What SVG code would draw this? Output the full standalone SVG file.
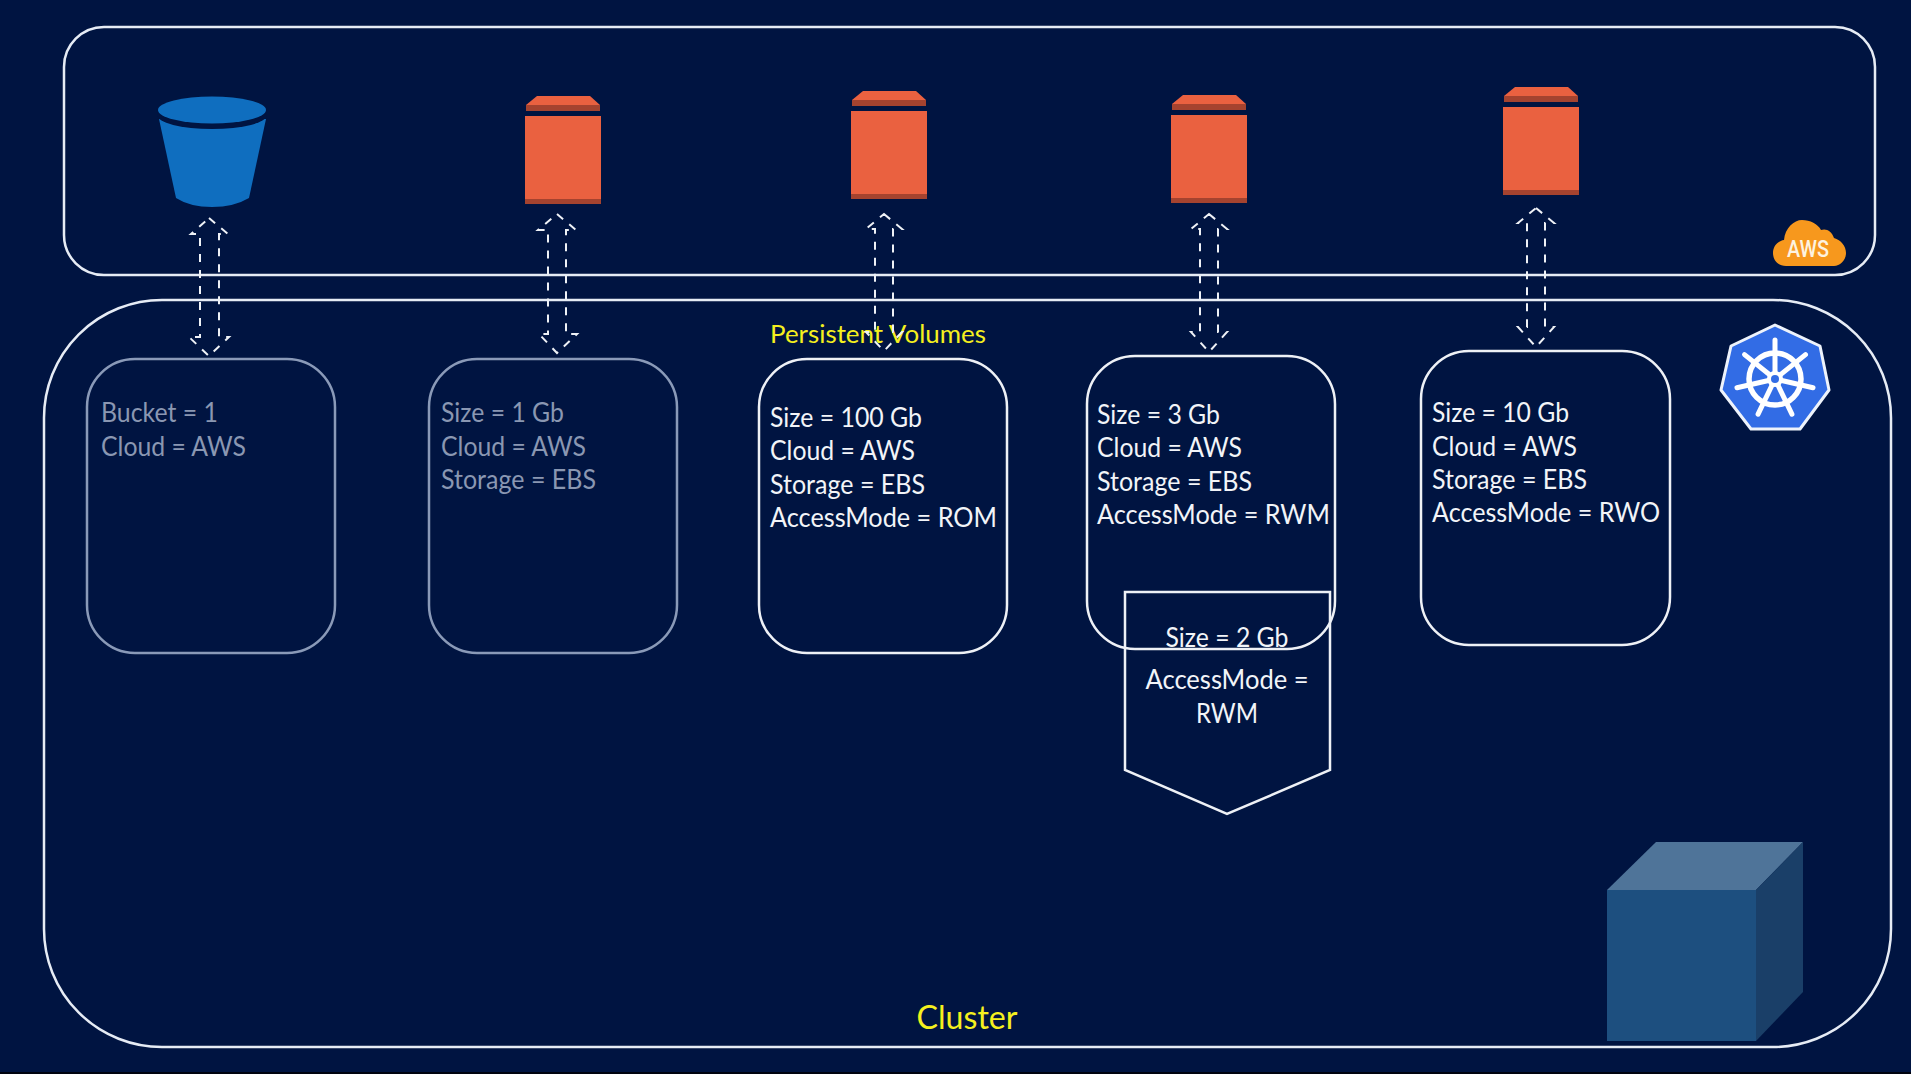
<svg xmlns="http://www.w3.org/2000/svg" width="1911" height="1074" viewBox="0 0 1911 1074">
<defs>
<style>
.frame{fill:none;stroke:#e6ecf5;stroke-width:2.5}
.t{font-family:"Lato","Open Sans",sans-serif;font-size:26px;fill:#f2f4f8}
.dim{fill:#8a97b2}
.y{fill:#f5f01e}
.box{fill:none;stroke:#eef1f6;stroke-width:2.5}
.boxdim{fill:none;stroke:#8a9ab8;stroke-width:2.5}
.arrow{fill:none;stroke:#eef1f6;stroke-width:2;stroke-dasharray:8 8}
.ebs{fill:#ea6140}
.ebsd{fill:#a5432f}
</style>
<g id="ebs">
<polygon class="ebs" points="12,0 65,0 75,9 1,9"/>
<rect class="ebsd" x="1" y="9" width="74" height="6"/>
<rect class="ebs" x="0" y="20" width="76" height="83"/>
<rect class="ebsd" x="0" y="103" width="76" height="5"/>
</g>
</defs>
<rect width="1911" height="1074" fill="#001441"/>
<rect y="1072" width="1911" height="2" fill="#00030f"/>
<g id="aws-region"><rect class="frame" x="64" y="27" width="1811" height="248" rx="40"/></g>
<g id="cluster"><rect class="frame" x="44" y="300" width="1847" height="747" rx="118"/>
<text class="t y" x="967" y="1029" text-anchor="middle" style="font-size:32px" textLength="101" lengthAdjust="spacingAndGlyphs">Cluster</text></g>
<g id="pv-title"><text class="t y" x="770" y="343" textLength="216" lengthAdjust="spacingAndGlyphs" style="font-size:25px">Persistent Volumes</text></g>

<g id="bucket">
<path d="M159 119 L176 198 Q190 207 212 207 Q234 207 249 198 L266 119 Z" fill="#0f6ebf"/>
<ellipse cx="212" cy="115" rx="55" ry="14" fill="#001441"/>
<ellipse cx="212" cy="110" rx="54" ry="13.5" fill="#0f6ebf"/>
</g>
<g id="ebs-1"><use href="#ebs" x="525" y="96"/></g>
<g id="ebs-2"><use href="#ebs" x="851" y="91"/></g>
<g id="ebs-3"><use href="#ebs" x="1171" y="95"/></g>
<g id="ebs-4"><use href="#ebs" x="1503" y="87"/></g>

<g id="aws-logo">
<path fill="#f7981d" d="M1786 266 C1777 266 1773 259 1773 253 C1773 246 1778 241 1784 240 C1785 228 1794 220 1802 220 C1810 220 1818 224 1821 230 C1826 228 1832 231 1834 238 C1841 240 1846 246 1846 253 C1846 260 1840 266 1834 266 Z"/>
<text x="1787" y="257" font-family="Roboto,sans-serif" font-weight="500" font-size="24" fill="#fdf3e0" textLength="42" lengthAdjust="spacingAndGlyphs">AWS</text>
</g>

<g id="k8s-logo">
<polygon points="1775,325 1820,346 1829,390 1800,429 1751,429 1721,390 1731,346" fill="#326ce5" stroke="#eef3fb" stroke-width="3" stroke-linejoin="round"/>
<g transform="translate(1775 379)" fill="none" stroke="#fff">
<circle r="26" stroke-width="5.5"/>
<g stroke-width="5" stroke-linecap="round">
<path d="M0 0V-39"/><path d="M0 0V-39" transform="rotate(51.4)"/><path d="M0 0V-39" transform="rotate(102.9)"/><path d="M0 0V-39" transform="rotate(154.3)"/><path d="M0 0V-39" transform="rotate(205.7)"/><path d="M0 0V-39" transform="rotate(257.1)"/><path d="M0 0V-39" transform="rotate(308.6)"/>
</g>
<circle r="8" fill="#fff" stroke="none"/><circle r="4" fill="#326ce5" stroke="none"/>
</g>
</g>

<g id="cube">
<polygon points="1607,890 1656,842 1803,842 1756,890" fill="#4f7499"/>
<polygon points="1756,890 1803,842 1803,992 1756,1041" fill="#1a3f68"/>
<rect x="1607" y="890" width="149" height="151" fill="#1d4f7f"/>
</g>

<g id="pv-1">
<rect class="boxdim" x="87" y="359" width="248" height="294" rx="48"/>
<text class="t dim" x="101" y="422" textLength="117" lengthAdjust="spacingAndGlyphs">Bucket = 1</text>
<text class="t dim" x="101" y="456" textLength="145" lengthAdjust="spacingAndGlyphs">Cloud = AWS</text>
</g>
<g id="pv-2">
<rect class="boxdim" x="429" y="359" width="248" height="294" rx="48"/>
<text class="t dim" x="441" y="422" textLength="123" lengthAdjust="spacingAndGlyphs">Size = 1 Gb</text>
<text class="t dim" x="441" y="456" textLength="145" lengthAdjust="spacingAndGlyphs">Cloud = AWS</text>
<text class="t dim" x="441" y="489" textLength="155" lengthAdjust="spacingAndGlyphs">Storage = EBS</text>
</g>
<g id="pv-3">
<rect class="box" x="759" y="359" width="248" height="294" rx="48"/>
<text class="t" x="770" y="427" textLength="152" lengthAdjust="spacingAndGlyphs">Size = 100 Gb</text>
<text class="t" x="770" y="460" textLength="145" lengthAdjust="spacingAndGlyphs">Cloud = AWS</text>
<text class="t" x="770" y="494" textLength="155" lengthAdjust="spacingAndGlyphs">Storage = EBS</text>
<text class="t" x="770" y="527" textLength="227" lengthAdjust="spacingAndGlyphs">AccessMode = ROM</text>
</g>
<g id="pv-4">
<rect class="box" x="1087" y="356" width="248" height="293" rx="48"/>
<text class="t" x="1097" y="424" textLength="123" lengthAdjust="spacingAndGlyphs">Size = 3 Gb</text>
<text class="t" x="1097" y="457" textLength="145" lengthAdjust="spacingAndGlyphs">Cloud = AWS</text>
<text class="t" x="1097" y="491" textLength="155" lengthAdjust="spacingAndGlyphs">Storage = EBS</text>
<text class="t" x="1097" y="524" textLength="233" lengthAdjust="spacingAndGlyphs">AccessMode = RWM</text>
</g>
<g id="pv-5">
<rect class="box" x="1421" y="351" width="249" height="294" rx="48"/>
<text class="t" x="1432" y="422" textLength="137" lengthAdjust="spacingAndGlyphs">Size = 10 Gb</text>
<text class="t" x="1432" y="456" textLength="145" lengthAdjust="spacingAndGlyphs">Cloud = AWS</text>
<text class="t" x="1432" y="489" textLength="155" lengthAdjust="spacingAndGlyphs">Storage = EBS</text>
<text class="t" x="1432" y="522" textLength="228" lengthAdjust="spacingAndGlyphs">AccessMode = RWO</text>
</g>
<g id="pvc">
<polygon class="box" points="1125,592 1330,592 1330,770 1227,814 1125,770"/>
<text class="t" x="1227" y="647" text-anchor="middle" textLength="123" lengthAdjust="spacingAndGlyphs">Size = 2 Gb</text>
<text class="t" x="1227" y="689" text-anchor="middle" textLength="163" lengthAdjust="spacingAndGlyphs">AccessMode =</text>
<text class="t" x="1227" y="723" text-anchor="middle" textLength="62" lengthAdjust="spacingAndGlyphs">RWM</text>
</g>

<g id="connectors">
<polygon class="arrow" points="209,218 228,234 219,234 219,337 229,337 209,356 189,337 200,337 200,234 191,234"/>
<polygon class="arrow" points="557,214 576,230 566,230 566,334 577,334 557,353 539,334 548,334 548,230 538,230"/>
<polygon class="arrow" points="884,214 902,229 893,229 893,332 902,332 884,351 866,332 875,332 875,229 866,229"/>
<polygon class="arrow" points="1209,214 1227,229 1218,229 1218,332 1227,332 1209,352 1191,332 1200,332 1200,229 1191,229"/>
<polygon class="arrow" points="1536,208 1554,223 1545,223 1545,327 1554,327 1536,347 1518,327 1527,327 1527,223 1518,223"/>
</g>
</svg>
